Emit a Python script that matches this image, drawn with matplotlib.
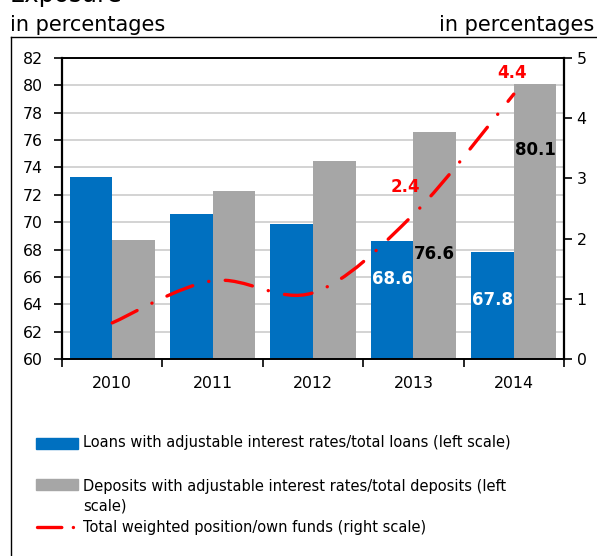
import matplotlib
matplotlib.use('Agg')
import matplotlib.pyplot as plt
import numpy as np
from matplotlib.path import Path
from matplotlib.patches import PathPatch, Rectangle
from matplotlib.lines import Line2D

# ---------------- data ----------------
years = ['2010', '2011', '2012', '2013', '2014']
loans = [73.3, 70.6, 69.9, 68.6, 67.8]          # left scale
deposits = [68.7, 72.3, 74.5, 76.6, 80.1]       # left scale
position = [0.6, 1.3, 1.1, 2.4, 4.4]            # right scale
left_ticks = list(range(60, 83, 2))
right_ticks = [0, 1, 2, 3, 4, 5]
labeled_years = ['2013', '2014']

legend_labels = [
    'Loans with adjustable interest rates/total loans (left scale)',
    'Deposits with adjustable interest rates/total deposits (left\nscale)',
    'Total weighted position/own funds (right scale)',
]

# ---------------- style ----------------
BLUE = '#0070C0'
GRAY = '#A6A6A6'
RED = '#FF0000'
plt.rcParams['font.family'] = ['DejaVu Sans']
plt.rcParams['lines.scale_dashes'] = False
DASH = (0, (20, 11.9, 0.1, 11.9))
LEG_DASH = (0, (17.5, 8.3, 0.1, 8.3))

# label offsets in pixels (style only)
loan_lbl_off = {'2013': -38, '2014': -48}
dep_lbl_off = {'2013': -122, '2014': -66}
pos_lbl_off = {'2013': (-8, 28), '2014': (-2, 21)}

W, H = 597, 556
fig = plt.figure(figsize=(W / 100, H / 100), dpi=100)
fx = lambda px: px / W
fy = lambda py: 1 - py / H

ax = fig.add_axes([fx(62), fy(359), (564 - 62) / W, (359 - 58) / H])
ax2 = ax.twinx()

x = np.arange(len(years))
bw = 0.424
ax.bar(x - bw / 2, loans, bw, color=BLUE, zorder=2)
ax.bar(x + bw / 2, deposits, bw, color=GRAY, zorder=2)

ax.set_xlim(-0.5, len(years) - 0.5)
ax.set_ylim(left_ticks[0], left_ticks[-1])
ax.set_yticks(left_ticks)
ax2.set_ylim(right_ticks[0], right_ticks[-1])
ax2.set_yticks(right_ticks)

ax.set_xticks(x, years)
ax.set_xticks(np.arange(-0.5, len(years)), minor=True)
ax.tick_params(axis='x', which='major', length=0, pad=12, labelsize=11.3)
ax.tick_params(axis='x', which='minor', length=6, width=1.2, direction='out')
ax.tick_params(axis='y', length=6, width=1.2, pad=8, labelsize=11.3)
ax2.tick_params(axis='y', length=6, width=1.2, pad=3, labelsize=11.3)

ax.yaxis.grid(True, color='#D0D0D0', lw=1.3)
ax.set_axisbelow(True)
for a in (ax, ax2):
    for s in a.spines.values():
        s.set_color('black')
        s.set_linewidth(1.2)
ax.spines['left'].set_linewidth(1.6)
ax2.spines['right'].set_linewidth(1.6)

# smooth line (Bezier through data points)
P = np.column_stack([x, position]).astype(float)
n = len(P)
verts = [P[0]]
codes = [Path.MOVETO]
for i in range(n - 1):
    p0 = P[i - 1] if i > 0 else P[i]
    p3 = P[i + 2] if i + 2 < n else P[i + 1]
    c1 = P[i] + (P[i + 1] - p0) / 6
    c2 = P[i + 1] - (p3 - P[i]) / 6
    verts += [c1, c2, P[i + 1]]
    codes += [Path.CURVE4] * 3
line = PathPatch(Path(verts, codes), fill=False, edgecolor=RED, lw=2.4,
                 linestyle=DASH, capstyle='round', zorder=3)
ax2.add_patch(line)

# value labels
for yr in labeled_years:
    i = years.index(yr)
    ax.annotate(f'{loans[i]:.1f}', (x[i] - bw / 2, loans[i]),
                xytext=(0, loan_lbl_off[yr]), textcoords='offset pixels',
                ha='center', va='center', color='white', fontweight='bold', fontsize=12, zorder=4)
    ax.annotate(f'{deposits[i]:.1f}', (x[i] + bw / 2, deposits[i]),
                xytext=(0, dep_lbl_off[yr]), textcoords='offset pixels',
                ha='center', va='center', color='black', fontweight='bold', fontsize=12, zorder=4)
    ax2.annotate(f'{position[i]:.1f}', (x[i], position[i]),
                 xytext=pos_lbl_off[yr], textcoords='offset pixels',
                 ha='center', va='center', color=RED, fontweight='bold', fontsize=12, zorder=4)

# header texts
fig.text(fx(10), fy(2), 'Exposure', va='baseline', ha='left', fontsize=17.5)
fig.text(fx(10), fy(31), 'in percentages', va='baseline', ha='left', fontsize=15)
fig.text(fx(594), fy(31), 'in percentages', va='baseline', ha='right', fontsize=15)

# frame
fig.add_artist(Line2D([fx(11), fx(11)], [0, fy(37)], color='black', lw=1.0, transform=fig.transFigure))
fig.add_artist(Line2D([fx(11), 1], [fy(37), fy(37)], color='black', lw=1.0, transform=fig.transFigure))

# legend (manual)
fs_leg = 10.5
fig.add_artist(Rectangle((fx(36), fy(449)), 42 / W, 11 / H, color=BLUE, transform=fig.transFigure))
fig.text(fx(83), fy(443), legend_labels[0], va='center', ha='left', fontsize=fs_leg)
fig.add_artist(Rectangle((fx(36), fy(490)), 42 / W, 11 / H, color=GRAY, transform=fig.transFigure))
fig.text(fx(83), fy(496.5), legend_labels[1], va='center', ha='left', fontsize=fs_leg, linespacing=1.4)
leg_line = Line2D([fx(36.5), fx(77)], [fy(527), fy(527)], color=RED, lw=2.4,
                  linestyle=LEG_DASH, dash_capstyle='round', transform=fig.transFigure)
fig.add_artist(leg_line)
fig.text(fx(83), fy(527.5), legend_labels[2], va='center', ha='left', fontsize=fs_leg)

fig.savefig('out.png', dpi=100)
